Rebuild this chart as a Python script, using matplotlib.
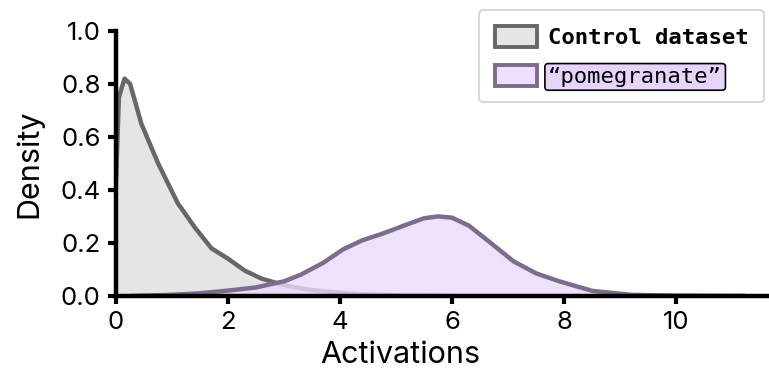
import matplotlib.pyplot as plt
from matplotlib.patches import Patch

# control dataset density
control_x = [0, 0.05, 0.15, 0.25, 0.45, 0.75, 1.1, 1.4, 1.7, 2.0, 2.3, 2.6, 3.0, 3.4, 3.8, 4.3, 5.0, 6.0]
control_y = [0.45, 0.75, 0.82, 0.80, 0.65, 0.50, 0.35, 0.26, 0.18, 0.14, 0.095, 0.065, 0.04, 0.025, 0.015, 0.007, 0.002, 0.0]

# "pomegranate" density
pom_x = [0.3, 1.0, 1.5, 2.0, 2.5, 3.0, 3.3, 3.7, 4.05, 4.4, 4.76, 5.2, 5.5, 5.75, 6.0, 6.3, 6.6, 7.1, 7.5, 7.9, 8.5, 9.2, 10.0, 11.2]
pom_y = [0.0, 0.004, 0.01, 0.02, 0.032, 0.055, 0.08, 0.125, 0.175, 0.21, 0.235, 0.27, 0.293, 0.30, 0.295, 0.265, 0.215, 0.13, 0.085, 0.056, 0.019, 0.004, 0.001, 0.0]

labels = ["Control dataset", "\u201cpomegranate\u201d"]

plt.rcParams['font.family'] = ['Inter', 'DejaVu Sans']

fig = plt.figure(figsize=(7.69, 3.68), dpi=100)
ax = fig.add_axes([0.151, 0.196, 0.849, 0.72])

ax.fill_between(control_x, control_y, color='#e5e5e5', zorder=1)
ax.plot(control_x, control_y, color='#676767', lw=3.2, zorder=2)
ax.fill_between(pom_x, pom_y, color='#eadbfb', alpha=0.8, zorder=3)
ax.plot(pom_x, pom_y, color='#7d6c8e', lw=3.2, zorder=4)

ax.set_xlim(0, 11.66)
ax.set_ylim(0, 1.0)
ax.set_xticks([0, 2, 4, 6, 8, 10])
ax.set_yticks([0.0, 0.2, 0.4, 0.6, 0.8, 1.0])
ax.set_yticklabels(['0.0', '0.2', '0.4', '0.6', '0.8', '1.0'])
ax.tick_params(labelsize=18.5, width=3, length=6, color='black', pad=5)
ax.set_xlabel("Activations", fontsize=22)
ax.set_ylabel("Density", fontsize=22)
ax.xaxis.set_label_coords(0.436, -0.17)
ax.yaxis.set_label_coords(-0.112, 0.5)
for s in ['top', 'right']:
    ax.spines[s].set_visible(False)
for s in ['left', 'bottom']:
    ax.spines[s].set_linewidth(3.2)
    ax.spines[s].set_zorder(10)

handles = [
    Patch(facecolor='#e5e5e5', edgecolor='#676767', linewidth=2.8),
    Patch(facecolor='#ece0fb', edgecolor='#7d6c8e', linewidth=2.8),
]
leg = ax.legend(handles, labels, loc='upper right', bbox_to_anchor=(1.01, 1.12),
                prop={'family': 'DejaVu Sans Mono', 'size': 16}, frameon=True,
                handlelength=1.9, handleheight=1.1, borderpad=0.7, labelspacing=0.75,
                handletextpad=0.5, fancybox=True)
leg.get_frame().set_edgecolor('#d8d8d8')
leg.get_frame().set_linewidth(1.5)
leg.get_frame().set_alpha(1)
texts = leg.get_texts()
texts[0].set_fontweight('bold')
texts[1].set_bbox(dict(boxstyle='round,pad=0.15', facecolor='#e6d4fb', edgecolor='black', linewidth=1.2))

fig.savefig("out.png", dpi=100)
